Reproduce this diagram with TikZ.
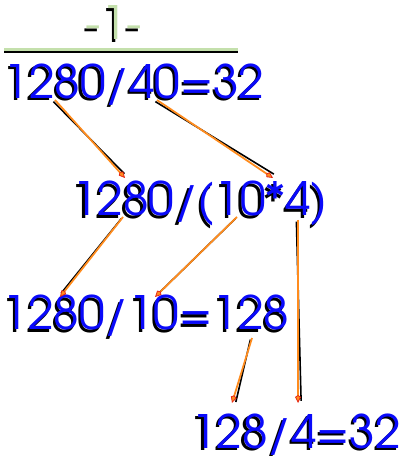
\documentclass[tikz,border=0pt]{standalone}
\usepackage{fontspec}
\setmainfont{TeX Gyre Adventor}
\usetikzlibrary{arrows.meta,calc}
\definecolor{txtblue}{RGB}{10,10,250}
\definecolor{lgreen}{RGB}{196,224,172}
\definecolor{arrorange}{RGB}{255,140,30}
\definecolor{arrred}{RGB}{230,40,20}
\tikzset{
  eq/.style={inner sep=0pt, outer sep=0pt, font=\fontsize{46}{46}\selectfont, text height=33pt, text depth=0pt, anchor=center},
  eqshadow/.style={eq, text=black},
  eqblue/.style={eq, text=txtblue},
  eqgreen/.style={eq, text=lgreen},
  arrshadow/.style={line width=1.6pt, black},
  arrmain/.style={line width=1.8pt, arrorange, -{Kite[length=8pt,width=6pt,fill=arrorange,color=arrred,line width=0.8pt]}},
  rule/.style={line width=3pt, lgreen},
  ruleshadow/.style={line width=1.5pt, black},
}
\newcommand{\shtxt}[4]{%
  \node[eqshadow] (#1-s) at ($(#2)+(-2.2,-2.2)$) {#4};
  \node[#3] (#1) at (#2) {#4};}
\begin{document}
\begin{tikzpicture}[x=1pt,y=1pt]
\useasboundingbox (0,0) rectangle (400,456);
% header
\shtxt{t0}{114,432.5}{eqgreen}{-1-}
\coordinate (r1) at (4,406);
\coordinate (r2) at (238,406);
\draw[ruleshadow] ($(r1)+(0,-2.2)$) -- ($(r2)+(0,-2.2)$);
\draw[rule] (r1) -- (r2);
% equations
\shtxt{t1}{134,374}{eqblue}{1280/40=32}
\shtxt{t2}{200,256.5}{eqblue}{1280/(10*4)}
\shtxt{t3}{146,142.5}{eqblue}{1280/10=128}
\shtxt{t4}{296,24}{eqblue}{128/4=32}
% arrow endpoints
\coordinate (a1s) at (55,356);  \coordinate (a1e) at (125,278);
\coordinate (a2s) at (157,356); \coordinate (a2e) at (273,278);
\coordinate (a3s) at (123,239); \coordinate (a3e) at (60,159);
\coordinate (a4s) at (237,239); \coordinate (a4e) at (155,159);
\coordinate (a5s) at (298,236); \coordinate (a5e) at (298,53);
\coordinate (a6s) at (252,118); \coordinate (a6e) at (232,53);
\foreach \i in {1,...,6}{
  \draw[arrshadow] ($(a\i s)+(-1.6,-1.6)$) -- ($(a\i e)+(-1.6,-1.6)!6pt!(a\i s)$);
  \draw[arrmain] (a\i s) -- (a\i e);
}
\end{tikzpicture}
\end{document}
